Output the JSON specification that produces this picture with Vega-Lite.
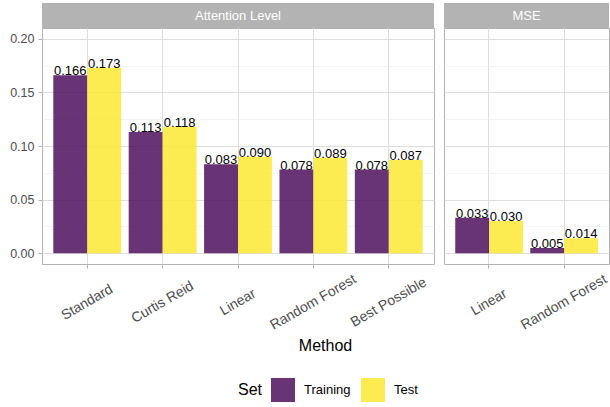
{
  "$schema": "https://vega.github.io/schema/vega-lite/v6.json",
  "padding": {"left": 9, "top": 3, "right": 0, "bottom": 0},
  "background": "white",
  "datasets": {
    "scores": [
      {"Metric": "Attention Level", "Method": "Standard", "Set": "Training", "Value": 0.166},
      {"Metric": "Attention Level", "Method": "Standard", "Set": "Test", "Value": 0.173},
      {"Metric": "Attention Level", "Method": "Curtis Reid", "Set": "Training", "Value": 0.113},
      {"Metric": "Attention Level", "Method": "Curtis Reid", "Set": "Test", "Value": 0.118},
      {"Metric": "Attention Level", "Method": "Linear", "Set": "Training", "Value": 0.083},
      {"Metric": "Attention Level", "Method": "Linear", "Set": "Test", "Value": 0.090},
      {"Metric": "Attention Level", "Method": "Random Forest", "Set": "Training", "Value": 0.078},
      {"Metric": "Attention Level", "Method": "Random Forest", "Set": "Test", "Value": 0.089},
      {"Metric": "Attention Level", "Method": "Best Possible", "Set": "Training", "Value": 0.078},
      {"Metric": "Attention Level", "Method": "Best Possible", "Set": "Test", "Value": 0.087},
      {"Metric": "MSE", "Method": "Linear", "Set": "Training", "Value": 0.033},
      {"Metric": "MSE", "Method": "Linear", "Set": "Test", "Value": 0.030},
      {"Metric": "MSE", "Method": "Random Forest", "Set": "Training", "Value": 0.005},
      {"Metric": "MSE", "Method": "Random Forest", "Set": "Test", "Value": 0.014}
    ],
    "panels": [{"Metric": "Attention Level"}, {"Metric": "MSE"}]
  },
  "config": {
    "font": "Liberation Sans",
    "view": {"stroke": "#B3B3B3", "strokeWidth": 1},
    "axis": {
      "labelFont": "Liberation Sans",
      "labelColor": "#4D4D4D",
      "labelFontSize": 12.5,
      "tickColor": "#B3B3B3",
      "tickSize": 4,
      "domain": false,
      "gridColor": "#DEDEDE",
      "gridWidth": 1,
      "titleFont": "Liberation Sans",
      "titleFontSize": 16,
      "titleFontWeight": "normal",
      "titleColor": "#000000"
    },
    "legend": {
      "titleFont": "Liberation Sans",
      "titleFontSize": 16,
      "titleFontWeight": "normal",
      "titleColor": "#000000",
      "labelFont": "Liberation Sans",
      "labelFontSize": 13,
      "labelColor": "#000000"
    }
  },
  "spacing": 8,
  "hconcat": [
    {
      "spacing": 0,
      "bounds": "flush",
      "vconcat": [
        {
          "width": 392,
          "height": 25,
          "data": {"name": "panels"},
          "transform": [{"filter": "datum.Metric === 'Attention Level'"}],
          "view": {"fill": "#B3B3B3", "stroke": null},
          "mark": {"type": "text", "color": "white", "fontSize": 13, "baseline": "middle", "align": "center"},
          "encoding": {"text": {"field": "Metric"}}
        },
        {
          "width": 392,
          "height": 236,
          "data": {"name": "scores"},
          "transform": [{"filter": "datum.Metric === 'Attention Level'"}],
          "encoding": {
            "x": {
              "field": "Method",
              "type": "nominal",
              "sort": ["Standard", "Curtis Reid", "Linear", "Random Forest", "Best Possible"],
              "scale": {"paddingInner": 0.1, "paddingOuter": 0.15},
              "axis": {
                "title": "Method",
                "titleX": 283,
                "titleY": 81,
                "titleBaseline": "middle",
                "titleAnchor": null,
                "labelAngle": -30,
                "labelAlign": "center",
                "labelBaseline": "middle",
                "labelPadding": 34,
                "labelFontSize": 14,
                "labelOverlap": false,
                "labelBound": false,
                "grid": true
              }
            },
            "xOffset": {"field": "Set", "type": "nominal", "sort": ["Training", "Test"]}
          },
          "layer": [
            {
              "mark": {"type": "bar", "opacity": 0.8},
              "encoding": {
                "y": {
                  "field": "Value",
                  "type": "quantitative",
                  "stack": null,
                  "scale": {"domain": [-0.01, 0.21], "nice": false, "zero": false},
                  "axis": {"orient": "left", "title": null, "values": [0, 0.05, 0.1, 0.15, 0.2], "format": ".2f", "grid": true, "labelPadding": 4}
                },
                "color": {
                  "field": "Set",
                  "type": "nominal",
                  "scale": {"domain": ["Training", "Test"], "range": ["#440154", "#FDE725"]},
                  "legend": {
                    "title": "Set",
                    "orient": "none",
                    "direction": "horizontal",
                    "titleOrient": "left",
                    "legendX": 196,
                    "legendY": 375,
                    "symbolType": "square",
                    "symbolSize": 576,
                    "symbolStrokeWidth": 0,
                    "labelOffset": 9,
                    "columnPadding": 10,
                    "titlePadding": 8,
                    "padding": 0
                  }
                }
              }
            },
            {
              "mark": {"type": "text", "baseline": "alphabetic", "align": "center", "fontSize": 13, "color": "#000000"},
              "encoding": {
                "y": {
                  "field": "Value",
                  "type": "quantitative",
                  "stack": null,
                  "scale": {"domain": [-0.01, 0.21], "nice": false, "zero": false},
                  "axis": {"orient": "left", "title": null, "values": [0.025, 0.075, 0.125, 0.175], "labels": false, "ticks": false, "domain": false, "grid": true, "gridColor": "#EDEDED", "gridWidth": 0.6}
                },
                "text": {"field": "Value", "type": "quantitative", "format": ".3f"}
              }
            }
          ],
          "resolve": {"axis": {"y": "independent"}}
        }
      ]
    },
    {
      "spacing": 0,
      "bounds": "flush",
      "vconcat": [
        {
          "width": 165,
          "height": 25,
          "data": {"name": "panels"},
          "transform": [{"filter": "datum.Metric === 'MSE'"}],
          "view": {"fill": "#B3B3B3", "stroke": null},
          "mark": {"type": "text", "color": "white", "fontSize": 13, "baseline": "middle", "align": "center"},
          "encoding": {"text": {"field": "Metric"}}
        },
        {
          "width": 165,
          "height": 236,
          "data": {"name": "scores"},
          "transform": [{"filter": "datum.Metric === 'MSE'"}],
          "encoding": {
            "x": {
              "field": "Method",
              "type": "nominal",
              "sort": ["Linear", "Random Forest"],
              "scale": {"paddingInner": 0.1, "paddingOuter": 0.15},
              "axis": {
                "title": null,
                "labelAngle": -30,
                "labelAlign": "center",
                "labelBaseline": "middle",
                "labelPadding": 34,
                "labelFontSize": 14,
                "labelOverlap": false,
                "labelBound": false,
                "grid": true
              }
            },
            "xOffset": {"field": "Set", "type": "nominal", "sort": ["Training", "Test"]}
          },
          "layer": [
            {
              "mark": {"type": "bar", "opacity": 0.8},
              "encoding": {
                "y": {
                  "field": "Value",
                  "type": "quantitative",
                  "stack": null,
                  "scale": {"domain": [-0.01, 0.21], "nice": false, "zero": false},
                  "axis": {"orient": "left", "title": null, "values": [0, 0.05, 0.1, 0.15, 0.2], "labels": false, "ticks": false, "grid": true}
                },
                "color": {
                  "field": "Set",
                  "type": "nominal",
                  "scale": {"domain": ["Training", "Test"], "range": ["#440154", "#FDE725"]},
                  "legend": {
                    "title": "Set",
                    "orient": "none",
                    "direction": "horizontal",
                    "titleOrient": "left",
                    "legendX": 196,
                    "legendY": 375,
                    "symbolType": "square",
                    "symbolSize": 576,
                    "symbolStrokeWidth": 0,
                    "labelOffset": 9,
                    "columnPadding": 10,
                    "titlePadding": 8,
                    "padding": 0
                  }
                }
              }
            },
            {
              "mark": {"type": "text", "baseline": "alphabetic", "align": "center", "fontSize": 13, "color": "#000000"},
              "encoding": {
                "y": {
                  "field": "Value",
                  "type": "quantitative",
                  "stack": null,
                  "scale": {"domain": [-0.01, 0.21], "nice": false, "zero": false},
                  "axis": {"orient": "left", "title": null, "values": [0.025, 0.075, 0.125, 0.175], "labels": false, "ticks": false, "domain": false, "grid": true, "gridColor": "#EDEDED", "gridWidth": 0.6}
                },
                "text": {"field": "Value", "type": "quantitative", "format": ".3f"}
              }
            }
          ],
          "resolve": {"axis": {"y": "independent"}}
        }
      ]
    }
  ]
}
